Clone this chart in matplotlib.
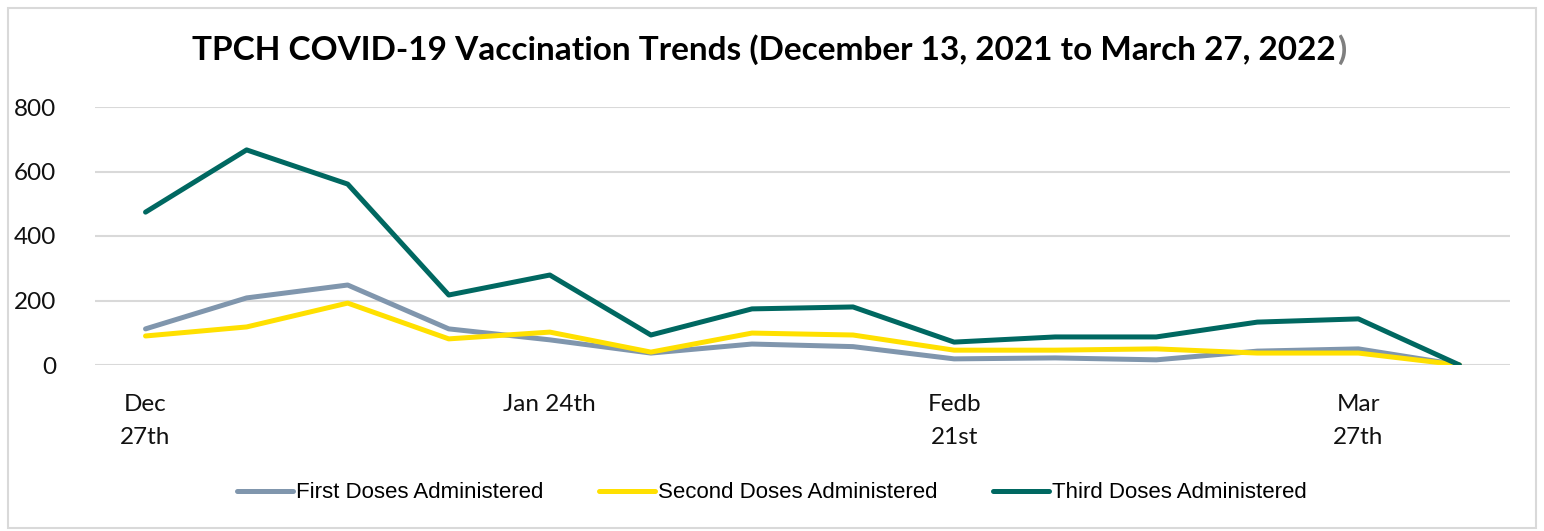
import matplotlib
matplotlib.use("Agg")
import matplotlib.pyplot as plt
from matplotlib.patches import Rectangle

# weekly values (14 weeks)
weeks = list(range(14))
first_doses = [112, 208, 248, 112, 78, 37, 65, 57, 19, 22, 16, 43, 50, 0]
second_doses = [90, 118, 192, 81, 102, 40, 99, 93, 46, 46, 50, 37, 37, 0]
third_doses = [474, 667, 561, 217, 279, 93, 174, 180, 71, 87, 87, 133, 143, 0]

tick_pos = [0, 4, 8, 12]
tick_labels = ["Dec\n27th", "Jan 24th", "Fedb\n21st", "Mar\n27th"]
y_ticks = [0, 200, 400, 600, 800]

plt.rcParams['font.family'] = ['Lato', 'DejaVu Sans']

fig = plt.figure(figsize=(15.44, 5.31), dpi=100)
fig.patches.append(Rectangle((8/1544, 3/531), 1528/1544, 520/531, transform=fig.transFigure,
                             fill=False, edgecolor="#d9d9d9", linewidth=1.5))

ax = fig.add_axes([95/1544, 1 - 365/531, 1415/1544, 258/531])
ax.plot(weeks, first_doses, color="#8096ad", linewidth=3.6, label="First Doses Administered",
        solid_capstyle="round")
ax.plot(weeks, second_doses, color="#ffe000", linewidth=3.6, label="Second Doses Administered",
        solid_capstyle="round")
ax.plot(weeks, third_doses, color="#006861", linewidth=3.6, label="Third Doses Administered",
        solid_capstyle="round")

ax.set_xlim(-0.5, 13.5)
ax.set_ylim(0, 800)
ax.set_yticks(y_ticks)
ax.set_xticks(tick_pos)
ax.set_xticklabels(tick_labels, linespacing=1.7)
ax.tick_params(axis="both", length=0, labelsize=17.5, labelcolor="#111111")
ax.tick_params(axis="y", pad=28)
ax.tick_params(axis="x", pad=21)
ax.grid(axis="y", color="#d9d9d9", linewidth=1.5)
ax.set_axisbelow(True)
for s in ax.spines.values():
    s.set_visible(False)

fig.text(0.5 - 8/1544, 1 - 50/531, "TPCH COVID-19 Vaccination Trends (December 13, 2021 to March 27, 2022",
         ha="center", va="center", fontsize=24, fontweight="bold")
# closing bracket in grey like the original
t = fig.texts[-1]
fig.canvas.draw()
bb = t.get_window_extent()
fig.text(bb.x1 / 1544 + 1/1544, 1 - 50/531, ")", ha="left", va="center", fontsize=24,
         fontweight="bold", color="#7f7f7f")

fig.legend(loc="center", bbox_to_anchor=(0.5, 1 - 493/531), ncol=3, frameon=False,
           handlelength=2.5, handletextpad=0.15, columnspacing=2.5,
           prop={"family": "Liberation Sans", "size": 16})

fig.savefig("out.png", dpi=100)
